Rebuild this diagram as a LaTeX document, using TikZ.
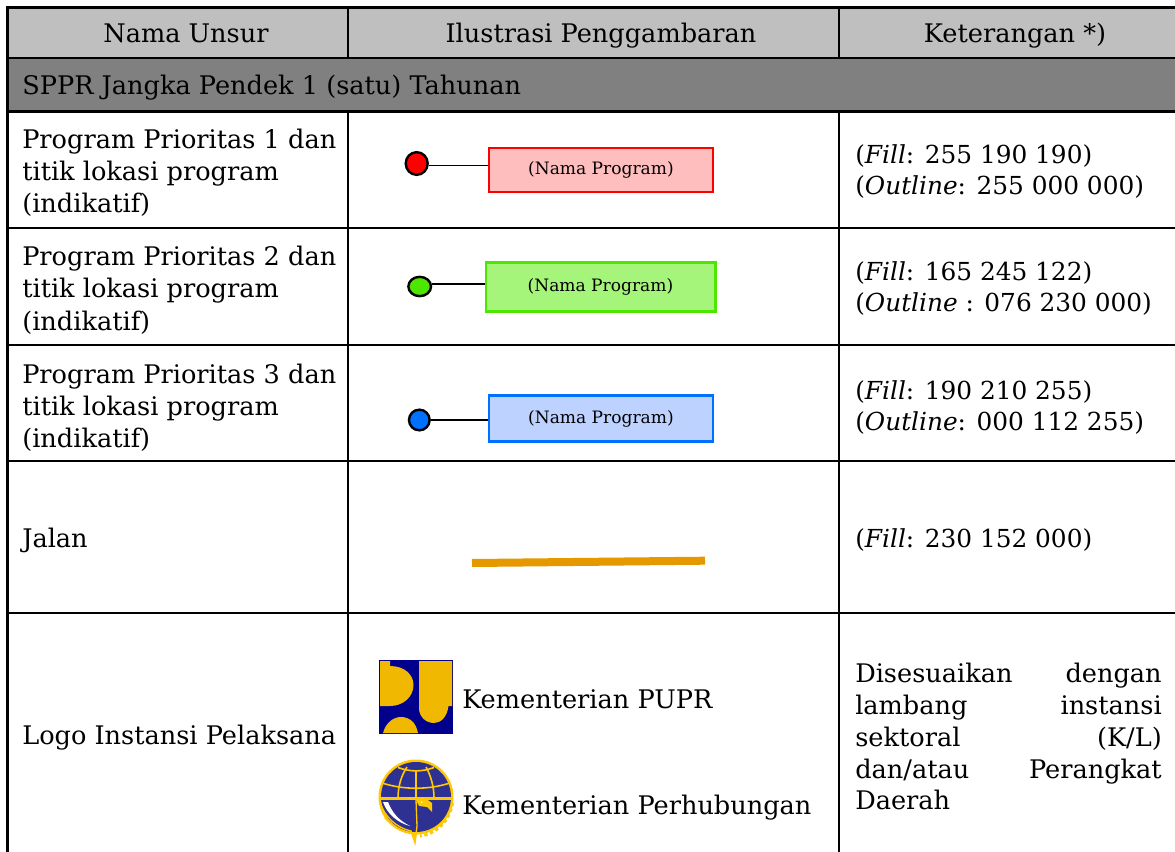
\documentclass[tikz,border=0pt]{standalone}
\usepackage{fontspec}
\setmainfont{DejaVu Serif}
\usetikzlibrary{shapes.geometric}
\definecolor{headgray}{RGB}{191,191,191}
\definecolor{bandgray}{RGB}{128,128,128}
\definecolor{fillA}{RGB}{255,190,190}\definecolor{lineA}{RGB}{255,0,0}
\definecolor{fillB}{RGB}{165,245,122}\definecolor{lineB}{RGB}{76,230,0}
\definecolor{fillC}{RGB}{190,210,255}\definecolor{lineC}{RGB}{0,112,255}
\definecolor{roadc}{RGB}{230,152,0}
\definecolor{puyellow}{RGB}{240,184,0}\definecolor{publue}{RGB}{0,0,140}
\definecolor{hubblue}{RGB}{46,49,146}\definecolor{hubyellow}{RGB}{255,200,0}
\tikzset{
 x=0.75pt,y=-0.75pt,
 grid/.style={black,line width=1.6pt},
 txt/.style={inner sep=0pt,anchor=base west,font=\fontsize{19.2}{20}\selectfont},
 ktxt/.style={txt,font=\fontsize{18.6}{20}\selectfont},
 ctxt/.style={txt,anchor=base},
 prog/.style={draw,line width=2pt,inner sep=0pt,font=\fontsize{12.8}{14}\selectfont},
 dot/.style={draw=black,line width=1.8pt,ellipse,inner sep=0pt},
 lead/.style={black,line width=0.8pt},
 gl/.style={hubyellow,line width=1.2pt},
}
\begin{document}
\begin{tikzpicture}
\useasboundingbox (0,0) rectangle (1175,852);
\fill[white] (0,0) rectangle (1175,852);
\fill[headgray] (7.5,7.5) rectangle (1175,58);
\fill[bandgray] (7.5,58) rectangle (1175,111.5);
\draw[grid] (7.5,852) -- (7.5,7.5) -- (1175,7.5);
\draw[grid] (7.5,58) -- (1175,58);
\draw[grid] (7.5,111.5) -- (1175,111.5);
\draw[grid] (7.5,228) -- (1175,228);
\draw[grid] (7.5,345) -- (1175,345);
\draw[grid] (7.5,461) -- (1175,461);
\draw[grid] (7.5,613) -- (1175,613);
\draw[grid] (348,7.5) -- (348,58);
\draw[grid] (348,111.5) -- (348,852);
\draw[grid] (839,7.5) -- (839,58);
\draw[grid] (839,111.5) -- (839,852);
\node[ctxt] (h1) at (186,43) {Nama Unsur};
\node[ctxt] (h2) at (601,43) {Ilustrasi Penggambaran};
\node[ctxt] (h3) at (1015,43) {Keterangan *)};
\node[txt] (band) at (22,95) {SPPR Jangka Pendek 1 (satu) Tahunan};
\node[txt] (a1) at (22,149) {Program Prioritas 1 dan};
\node[txt] (a2) at (22,181) {titik lokasi program};
\node[txt] (a3) at (22,213) {(indikatif)};
\node[txt] (b1) at (22,266) {Program Prioritas 2 dan};
\node[txt] (b2) at (22,298) {titik lokasi program};
\node[txt] (b3) at (22,330) {(indikatif)};
\node[txt] (c1) at (22,383) {Program Prioritas 3 dan};
\node[txt] (c2) at (22,415) {titik lokasi program};
\node[txt] (c3) at (22,447) {(indikatif)};
\node[txt] (j) at (22,547) {Jalan};
\node[txt] (l) at (22,744) {Logo Instansi Pelaksana};
\node[ktxt] (k1a) at (855,164) {(\textit{Fill}: 255 190 190)};
\node[ktxt] (k1b) at (855,195) {(\textit{Outline}: 255 000 000)};
\node[ktxt] (k2a) at (855,281) {(\textit{Fill}: 165 245 122)};
\node[ktxt] (k2b) at (855,312) {(\textit{Outline} : 076 230 000)};
\node[ktxt] (k3a) at (855,399) {(\textit{Fill}: 190 210 255)};
\node[ktxt] (k3b) at (855,430) {(\textit{Outline}: 000 112 255)};
\node[ktxt] (k4) at (855,547) {(\textit{Fill}: 230 152 000)};
\node[txt] (d1) at (855,682) {Disesuaikan};
\node[txt,anchor=base east] (d1r) at (1162,682) {dengan};
\node[txt] (d2) at (855,714) {lambang};
\node[txt,anchor=base east] (d2r) at (1162,714) {instansi};
\node[txt] (d3) at (855,746) {sektoral};
\node[txt,anchor=base east] (d3r) at (1162,746) {(K/L)};
\node[txt] (d4) at (855,778) {dan/atau};
\node[txt,anchor=base east] (d4r) at (1162,778) {Perangkat};
\node[txt] (d5) at (855,809) {Daerah};
% symbols
\node[prog,draw=lineA,fill=fillA,minimum width=168pt,minimum height=33pt] (p1) at (601,170) {(Nama Program)};
\node[dot,fill=lineA,minimum width=16.5pt,minimum height=17pt] (q1) at (416.7,163.5) {};
\coordinate (e1) at (488,165.5);
\draw[lead] (q1.east |- e1) -- (e1);
\node[prog,draw=lineB,fill=fillB,minimum width=172pt,minimum height=37pt] (p2) at (600.5,287) {(Nama Program)};
\node[dot,fill=lineB,minimum width=17pt,minimum height=14.5pt] (q2) at (419.7,286.5) {};
\coordinate (e2) at (485,284);
\draw[lead] (q2.east |- e2) -- (e2);
\node[prog,draw=lineC,fill=fillC,minimum width=168pt,minimum height=34.5pt] (p3) at (601,418.5) {(Nama Program)};
\node[dot,fill=lineC,minimum width=15.5pt,minimum height=15.5pt] (q3) at (419.3,420) {};
\coordinate (e3) at (488,420);
\draw[lead] (q3.east |- e3) -- (e3);
\coordinate (r1) at (472,563);
\coordinate (r2) at (705,560.7);
\draw[roadc,line width=6pt] (r1) -- (r2);
% PU logo
\fill[publue] (379,660) rectangle (453,734);
\fill[puyellow] (380,661) -- (390,661) -- (390,666)
  .. controls (405,666) and (413.5,675) .. (413.5,685)
  .. controls (413.5,697) and (403,706) .. (390,706) -- (380,706) -- cycle;
\fill[puyellow] (419,661) -- (452,661) -- (452,706) -- (448.5,706)
  .. controls (447,718) and (440,723) .. (434,723)
  .. controls (426,723) and (419,717) .. (419,708) -- cycle;
\fill[puyellow] (383,733) .. controls (386,722) and (394,717) .. (401,717)
  .. controls (409,717) and (416,722) .. (418,733) -- cycle;
% Hub logo
\fill[hubyellow] (416,797) circle (37.5);
\fill[hubyellow] (384,818) .. controls (392,826) and (402,831) .. (411,833) -- (415,843)
  -- (417,833) .. controls (430,833) and (440,828) .. (446,820) -- cycle;
\draw[hubyellow,line width=2.2pt,dash pattern=on 2.5pt off 2pt] (452.5,803) .. controls (450,820) and (437,834) .. (420,836);
\fill[hubblue] (416,797) circle (35);
\draw[gl] (398,767.5) .. controls (410,772) and (422,772) .. (434,767.5);
\draw[gl] (382,783) .. controls (404,790) and (428,790) .. (450,783);
\draw[gl] (416,771) -- (416,798);
\draw[gl] (407,767) .. controls (401,776) and (398,787) .. (398,798);
\draw[gl] (426,767) .. controls (431,776) and (434,787) .. (434,798);
% lower half: bird
\fill[hubyellow] (379,797) rectangle (453,800);
\fill[white] (383,802) .. controls (387,814) and (398,823) .. (410,826)
  .. controls (398,820) and (392,812) .. (388,802) -- cycle;
\draw[hubyellow,line width=1pt] (380,801) .. controls (384,817) and (397,828) .. (411,831) -- (415,843) -- (417,826) -- (416,800);
\fill[hubyellow] (416,800) -- (425,798) -- (432,803) -- (432,812) -- (427,807) -- (419,806) -- cycle;
\fill[white] (421.5,802) circle (1);
\node[txt] (m1) at (462,708) {Kementerian PUPR};
\node[txt] (m2) at (462,814) {Kementerian Perhubungan};
\end{tikzpicture}
\end{document}
